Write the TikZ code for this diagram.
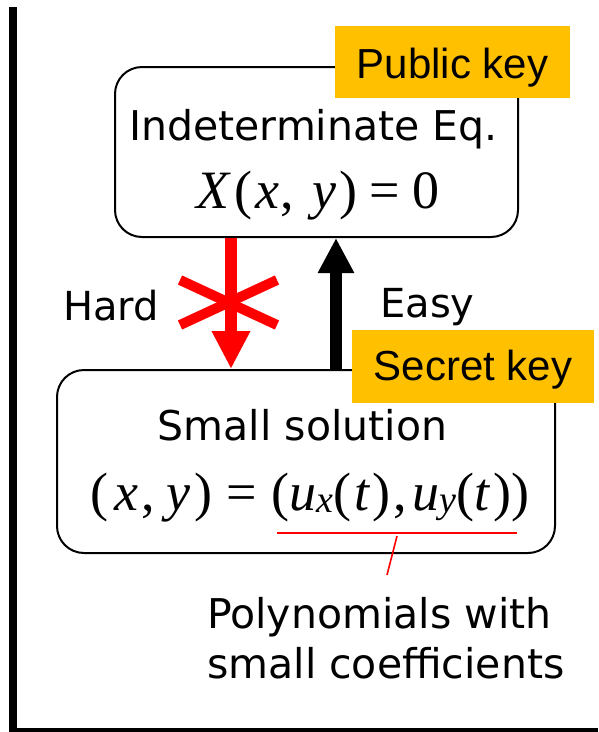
\documentclass[tikz,border=0pt]{standalone}
\usepackage{fontspec}
\setmainfont{DejaVu Sans}
\newfontfamily\arialfont{Liberation Sans}
\newfontfamily\timesfont{Liberation Serif}
\usetikzlibrary{arrows.meta}
\definecolor{keygold}{HTML}{FFC000}
\definecolor{hardred}{HTML}{FF0000}
% italic variable and lowered, smaller italic subscript
\newcommand\iv[1]{{\itshape #1}}
\newcommand\lowsub[1]{\raisebox{-2pt}{\fontsize{38}{40}\selectfont\itshape #1}}

\begin{document}
\begin{tikzpicture}[x=1pt,y=-1pt,
  roundbox/.style={draw, line width=2pt, rounded corners=27pt, inner sep=0pt},
  keytag/.style={fill=keygold, inner sep=0pt, font=\arialfont\fontsize{42}{50}\selectfont},
  caption/.style={inner sep=0pt, font=\fontsize{41}{49}\selectfont},
  sidelabel/.style={inner sep=0pt, font=\fontsize{40}{48}\selectfont},
  eqtext/.style={inner sep=0pt, font=\timesfont\fontsize{54}{60}\selectfont},
  hardarrow/.style={draw=hardred, line width=12pt, -{Triangle[width=36pt,length=38pt]}},
  easyarrow/.style={draw=black, line width=12pt, -{Triangle[width=34pt,length=35pt]}},
  crossbar/.style={draw=hardred, line width=10pt},
  pointer/.style={draw=hardred, line width=1.6pt}
]
\useasboundingbox (0,0) rectangle (598,732);

% frame along the left and bottom
\fill[black] (9,7) rectangle (17,732);
\fill[black] (9,728) rectangle (598,732);

% the two statements
\node[roundbox, minimum width=403pt, minimum height=170pt] (eqbox) at (316.5,152) {};
\node[roundbox, minimum width=498pt, minimum height=183pt] (solbox) at (306,461.5) {};

\node[caption, anchor=base] (eqtitle) at (313.5,140) {Indeterminate Eq.};
\node[eqtext, anchor=base] (eqformula) at (318,208)
  {\iv{X}\kern5pt(\kern3pt\iv{x}\kern1pt,\kern18pt\iv{y}\kern4pt)\kern12pt=\kern12pt0};

\node[caption, anchor=base] (soltitle) at (302.5,440) {Small solution};
\node[eqtext, anchor=base] (solformula) at (310,510)
  {(\kern6pt\iv{x}\kern3pt,\kern12pt\iv{y}\kern4pt)\kern14pt=\kern14pt(\iv{u}\lowsub{x}(\kern3pt\iv{t}\kern3pt)\kern3pt,\kern6pt\iv{u}\lowsub{y}(\iv{t}\kern4pt))};

% directions between the statements
\coordinate (hardx) at (231,0);
\coordinate (easyx) at (336,0);
\draw[hardarrow] (hardx |- eqbox.south) -- (hardx |- solbox.north);
\draw[easyarrow] (easyx |- solbox.north) -- (easyx |- eqbox.south);

% crossing strokes over the hard direction
\draw[crossbar] (180,280) -- (277,325);
\draw[crossbar] (180,325) -- (277,280);

\node[sidelabel, anchor=base west] (hard) at (63,320) {Hard};
\node[sidelabel, anchor=base west] (easy) at (380,317) {Easy};

% key tags
\node[keytag, minimum width=235pt, minimum height=72pt, text height=40pt, text depth=8pt]
  (pubkey) at (452.5,62) {Public key};
\node[keytag, minimum width=242pt, minimum height=73pt, text height=36pt, text depth=9pt]
  (seckey) at (473,366.5) {Secret key};

% underline of the polynomial part and its note
\coordinate (ulleft) at (277,533);
\coordinate (ulright) at (517,533);
\coordinate (ulfoot) at (397,536);
\coordinate (notetip) at (387,575);
\draw[pointer] (ulleft) -- (ulright);
\draw[pointer] (ulfoot) -- (notetip);

\node[caption, anchor=base west] (notea) at (207,628) {Polynomials with};
\node[caption, anchor=base west] (noteb) at (207,678) {small coefficients};
\end{tikzpicture}
\end{document}
